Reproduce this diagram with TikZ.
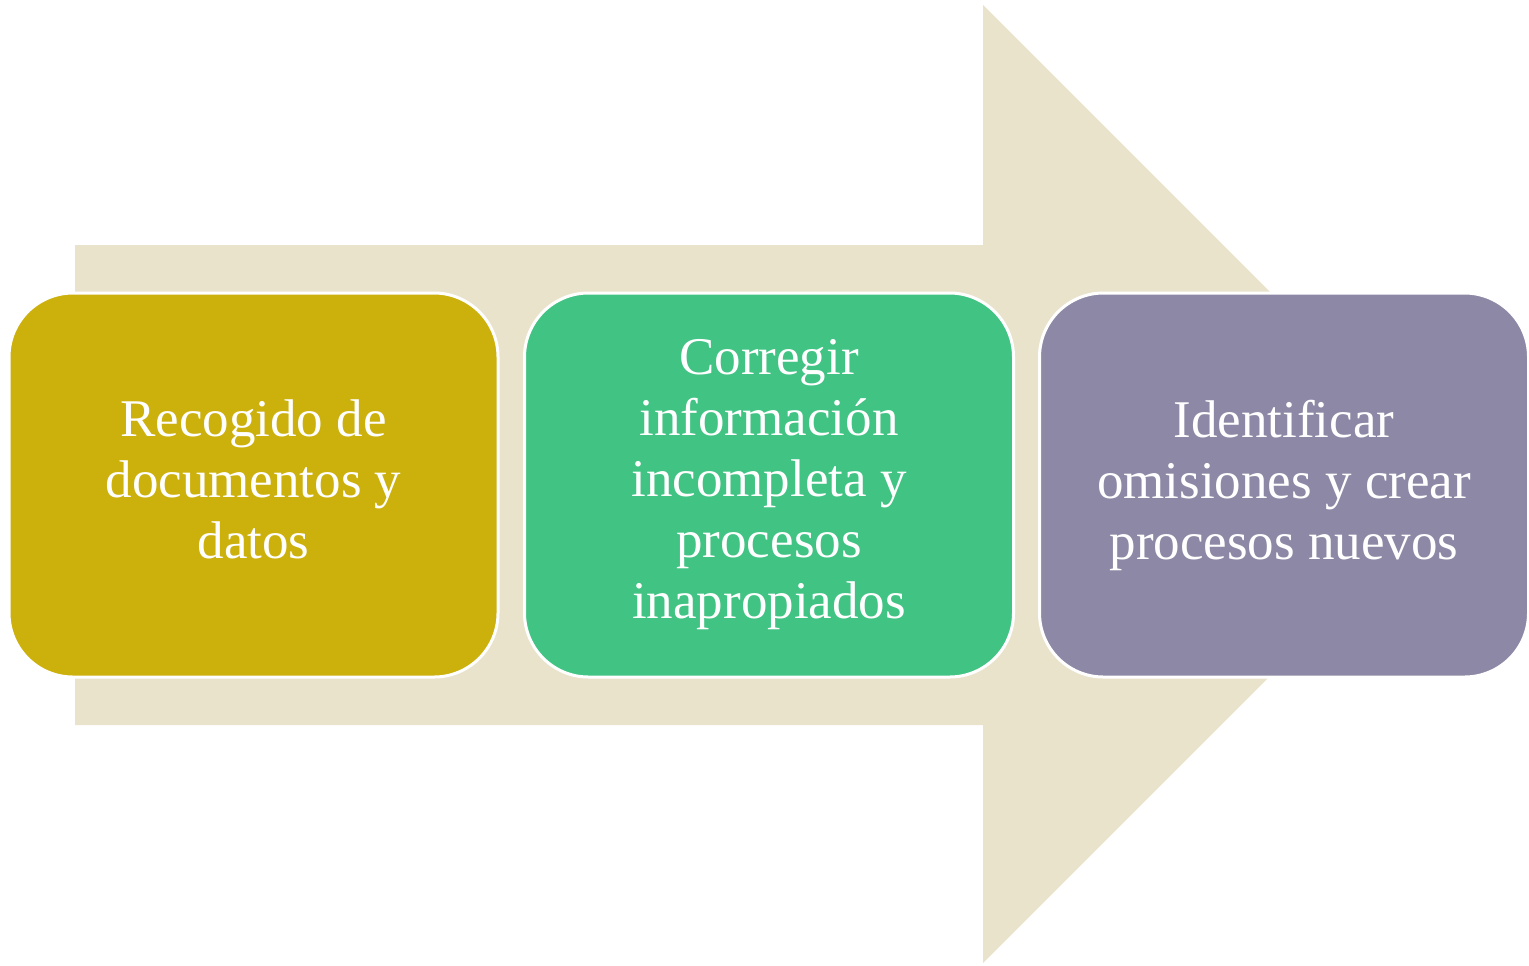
\documentclass[tikz,border=0pt]{standalone}
\usepackage{fontspec}
\setmainfont{Liberation Serif}
\definecolor{arrowc}{HTML}{EAE3CC}
\definecolor{goldc}{HTML}{CCB00C}
\definecolor{greenc}{HTML}{40C383}
\definecolor{purplec}{HTML}{8D88A5}
\tikzset{
  stepbox/.style={draw=white, line width=1.5pt, rounded corners=32pt,
    minimum width=244.5pt, minimum height=192pt, inner sep=0pt,
    text=white, align=center, font=\fontsize{26.5}{30.5}\selectfont},
}
\begin{document}
\begin{tikzpicture}[x=0.5pt,y=-0.5pt]
\useasboundingbox (0,0) rectangle (1529,965);
\fill[arrowc] (75,245) -- (983,245) -- (983,5) -- (1462,484) -- (983,963) -- (983,725) -- (75,725) -- cycle;
\node[stepbox, fill=goldc] (b1) at (253.5,485) {Recogido de\\documentos y\\datos\vphantom{p}};
\node[stepbox, fill=greenc] (b2) at (769,485) {Corregir\\información\\incompleta y\\procesos\\inapropiados};
\node[stepbox, fill=purplec] (b3) at (1284,485) {Identificar\\omisiones y crear\\procesos nuevos};
\end{tikzpicture}
\end{document}
